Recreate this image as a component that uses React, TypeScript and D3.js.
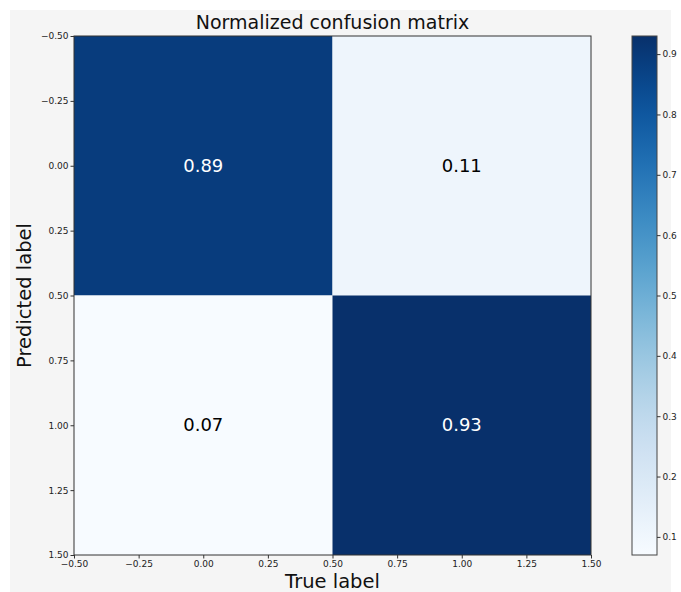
import React, { useEffect, useRef } from 'react';
import * as d3 from 'd3';

// confusion matrix values (rows = predicted, cols = true)
const rowLabels = [0, 1];
const colLabels = [0, 1];
const matrix = [
  [0.89, 0.11],
  [0.07, 0.93],
];
const axisTicks = [-0.5, -0.25, 0, 0.25, 0.5, 0.75, 1, 1.25, 1.5];
const cbarTicks = [0.1, 0.2, 0.3, 0.4, 0.5, 0.6, 0.7, 0.8, 0.9];

const W = 681;
const H = 592;

const App: React.FC = () => {
  const svgRef = useRef<SVGSVGElement>(null);

  useEffect(() => {
    if (!svgRef.current) return;
    const svg = d3.select(svgRef.current);
    svg.selectAll('*').remove();

    const font = 'DejaVu Sans, sans-serif';
    const plot = { left: 74, top: 36, right: 591, bottom: 555 };
    const cbar = { left: 632, right: 657, top: 36, bottom: 555 };

    svg.append('rect').attr('width', W).attr('height', H).attr('fill', '#fff');
    svg.append('rect')
      .attr('x', 10).attr('y', 10)
      .attr('width', 661).attr('height', H - 10)
      .attr('fill', '#f5f5f5');

    const flat = matrix.flat();
    const vmin = d3.min(flat) as number;
    const vmax = d3.max(flat) as number;
    const color = d3.scaleSequential(d3.interpolateBlues).domain([vmin, vmax]);

    const x = d3.scaleLinear().domain([-0.5, 1.5]).range([plot.left, plot.right]);
    const y = d3.scaleLinear().domain([-0.5, 1.5]).range([plot.top, plot.bottom]);

    const g = svg.append('g');

    // cells
    rowLabels.forEach((r, i) => {
      colLabels.forEach((c, j) => {
        const v = matrix[i][j];
        g.append('rect')
          .attr('x', x(c - 0.5))
          .attr('y', y(r - 0.5))
          .attr('width', x(c + 0.5) - x(c - 0.5))
          .attr('height', y(r + 0.5) - y(r - 0.5))
          .attr('fill', color(v));
        g.append('text')
          .attr('x', x(c))
          .attr('y', y(r))
          .attr('dy', '0.32em')
          .attr('text-anchor', 'middle')
          .attr('font-family', font)
          .attr('font-size', 18)
          .attr('fill', v > 0.5 ? '#fff' : '#000')
          .text(v.toFixed(2));
      });
    });

    // frame
    g.append('rect')
      .attr('x', plot.left).attr('y', plot.top)
      .attr('width', plot.right - plot.left).attr('height', plot.bottom - plot.top)
      .attr('fill', 'none').attr('stroke', '#333').attr('stroke-width', 1);

    const fmt = d3.format('.2f');

    const xAxis = svg.append('g')
      .attr('transform', `translate(0,${plot.bottom})`)
      .call(d3.axisBottom(x).tickValues(axisTicks).tickFormat(d => fmt(d as number)).tickSize(3.5).tickPadding(2));
    const yAxis = svg.append('g')
      .attr('transform', `translate(${plot.left},0)`)
      .call(d3.axisLeft(y).tickValues(axisTicks).tickFormat(d => fmt(d as number)).tickSize(3.5).tickPadding(2));

    [xAxis, yAxis].forEach(a => {
      a.select('.domain').remove();
      a.selectAll('line').attr('stroke', '#333');
      a.selectAll('text').attr('font-family', font).attr('font-size', 9).attr('fill', '#222');
    });

    // colorbar
    const defs = svg.append('defs');
    const grad = defs.append('linearGradient')
      .attr('id', 'cbar-grad')
      .attr('x1', 0).attr('y1', 1).attr('x2', 0).attr('y2', 0);
    d3.range(0, 1.0001, 0.05).forEach(t => {
      grad.append('stop')
        .attr('offset', t)
        .attr('stop-color', color(vmin + t * (vmax - vmin)));
    });
    svg.append('rect')
      .attr('x', cbar.left).attr('y', cbar.top)
      .attr('width', cbar.right - cbar.left).attr('height', cbar.bottom - cbar.top)
      .attr('fill', 'url(#cbar-grad)')
      .attr('stroke', '#444').attr('stroke-width', 1);

    const cy = d3.scaleLinear().domain([vmin, vmax]).range([cbar.bottom, cbar.top]);
    const cAxis = svg.append('g')
      .attr('transform', `translate(${cbar.right},0)`)
      .call(d3.axisRight(cy).tickValues(cbarTicks).tickFormat(d3.format('.1f')).tickSize(3.5).tickPadding(2));
    cAxis.select('.domain').remove();
    cAxis.selectAll('line').attr('stroke', '#333');
    cAxis.selectAll('text').attr('font-family', font).attr('font-size', 9).attr('fill', '#222');

    // titles
    svg.append('text')
      .attr('x', (plot.left + plot.right) / 2)
      .attr('y', 29)
      .attr('text-anchor', 'middle')
      .attr('font-family', font)
      .attr('font-size', 19)
      .attr('fill', '#111')
      .text('Normalized confusion matrix');

    svg.append('text')
      .attr('x', (plot.left + plot.right) / 2)
      .attr('y', 588)
      .attr('text-anchor', 'middle')
      .attr('font-family', font)
      .attr('font-size', 19.5)
      .attr('fill', '#111')
      .text('True label');

    svg.append('text')
      .attr('transform', `translate(31,${(plot.top + plot.bottom) / 2}) rotate(-90)`)
      .attr('text-anchor', 'middle')
      .attr('font-family', font)
      .attr('font-size', 19.5)
      .attr('fill', '#111')
      .text('Predicted label');
  }, []);

  return (
    <svg
      ref={svgRef}
      width={W}
      height={H}
      style={{ position: 'absolute', left: 0, top: 0, display: 'block' }}
    />
  );
};

export default App;
